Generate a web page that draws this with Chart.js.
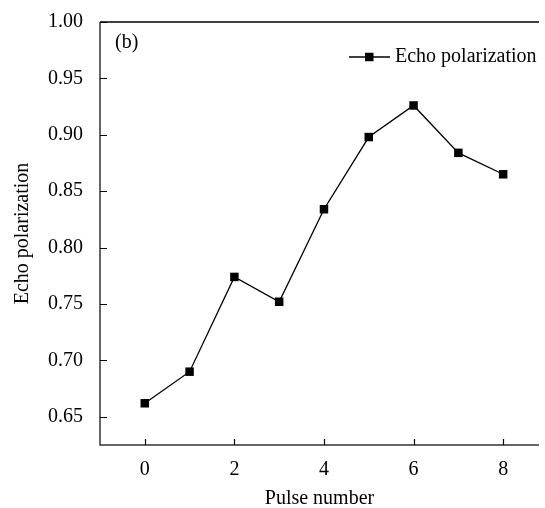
<!DOCTYPE html>
<html>
<head>
<meta charset="utf-8">
<script src="https://cdn.jsdelivr.net/npm/chart.js@4/dist/chart.umd.min.js"></script>
<style>
  html, body { margin: 0; padding: 0; background: #fff; }
  #wrap { width: 545px; height: 508px; }
</style>
</head>
<body>
<div id="wrap"><canvas id="chart" width="545" height="508"></canvas></div>
<script>
// values
const pulseNumbers = [0, 1, 2, 3, 4, 5, 6, 7, 8]
const echoPolarization = [0.662, 0.690, 0.774, 0.752, 0.834, 0.898, 0.926, 0.884, 0.865]
const xTicks = [0, 2, 4, 6, 8]
const yTicks = [0.65, 0.70, 0.75, 0.80, 0.85, 0.90, 0.95, 1.00]
const seriesLabel = "Echo polarization"
const panelLabel = "(b)"

const FONT = "'Liberation Serif', 'Times New Roman', serif"

// axes with inward ticks, top border, legend and panel tag
const framePlugin = {
  id: "frame",
  afterDraw(chart) {
    const { ctx, chartArea: a, scales } = chart
    const xs = scales.x, ys = scales.y
    ctx.save()
    ctx.lineWidth = 1.5
    ctx.strokeStyle = "#333"
    ctx.beginPath()
    ctx.moveTo(a.left, a.top)
    ctx.lineTo(a.left, a.bottom)
    ctx.lineTo(a.right, a.bottom)
    ctx.stroke()
    ctx.strokeStyle = "#000"
    ctx.beginPath()
    ctx.moveTo(a.left, a.top)
    ctx.lineTo(a.right, a.top)
    ctx.stroke()

    ctx.lineWidth = 1.2
    ctx.strokeStyle = "#000"
    ctx.beginPath()
    yTicks.forEach(v => {
      const y = Math.round(ys.getPixelForValue(v)) + 0.5
      ctx.moveTo(a.left, y)
      ctx.lineTo(a.left + 7, y)
    })
    xTicks.forEach(v => {
      const x = Math.round(xs.getPixelForValue(v)) + 0.5
      ctx.moveTo(x, a.bottom)
      ctx.lineTo(x, a.bottom - 6)
    })
    ctx.stroke()

    // legend
    const ds = chart.data.datasets[0]
    const ly = 57
    ctx.strokeStyle = ds.borderColor
    ctx.lineWidth = ds.borderWidth
    ctx.beginPath()
    ctx.moveTo(349, ly)
    ctx.lineTo(390, ly)
    ctx.stroke()
    ctx.fillStyle = ds.pointBackgroundColor
    ctx.fillRect(365, ly - 4.25, 8.5, 8.5)
    ctx.font = "20px " + FONT
    ctx.textBaseline = "middle"
    ctx.textAlign = "left"
    ctx.fillStyle = "#000"
    ctx.fillText(ds.label, 395, ly)

    ctx.fillText(panelLabel, a.left + 15, a.top + 21)
    ctx.restore()
  }
}

new Chart(document.getElementById("chart"), {
  type: "scatter",
  data: {
    datasets: [{
      label: seriesLabel,
      data: pulseNumbers.map((x, i) => ({ x, y: echoPolarization[i] })),
      showLine: true,
      borderColor: "#000",
      borderWidth: 1.3,
      pointStyle: "rect",
      pointRadius: 6,
      pointBackgroundColor: "#000",
      pointBorderColor: "#000",
      pointBorderWidth: 0,
      clip: false
    }]
  },
  options: {
    responsive: false,
    animation: false,
    layout: { padding: { top: 22, right: 0, left: 0, bottom: 0 } },
    plugins: { legend: { display: false }, tooltip: { enabled: false } },
    scales: {
      x: {
        type: "linear",
        min: -1,
        max: 8.8,
        afterBuildTicks: s => { s.ticks = xTicks.map(v => ({ value: v })) },
        afterFit: s => { s.height = 63; s.paddingLeft = 0; s.paddingRight = 0 },
        grid: { display: false, drawTicks: false },
        border: { display: false },
        ticks: { color: "#000", padding: 13, font: { family: FONT, size: 20 } },
        title: {
          display: true, text: "Pulse number", color: "#000",
          padding: { top: 0, bottom: -3 }, font: { family: FONT, size: 20 }
        }
      },
      y: {
        min: 0.625,
        max: 1.0,
        afterBuildTicks: s => { s.ticks = yTicks.map(v => ({ value: v })) },
        afterFit: s => { s.width = 100; s.paddingTop = 0; s.paddingBottom = 0 },
        grid: { display: false, drawTicks: false },
        border: { display: false },
        ticks: {
          color: "#000", padding: 17, font: { family: FONT, size: 20 },
          callback: v => v.toFixed(2)
        },
        title: {
          display: true, text: "Echo polarization", color: "#000",
          padding: { top: 11, bottom: 0 }, font: { family: FONT, size: 20 }
        }
      }
    }
  },
  plugins: [framePlugin]
})
</script>
</body>
</html>
